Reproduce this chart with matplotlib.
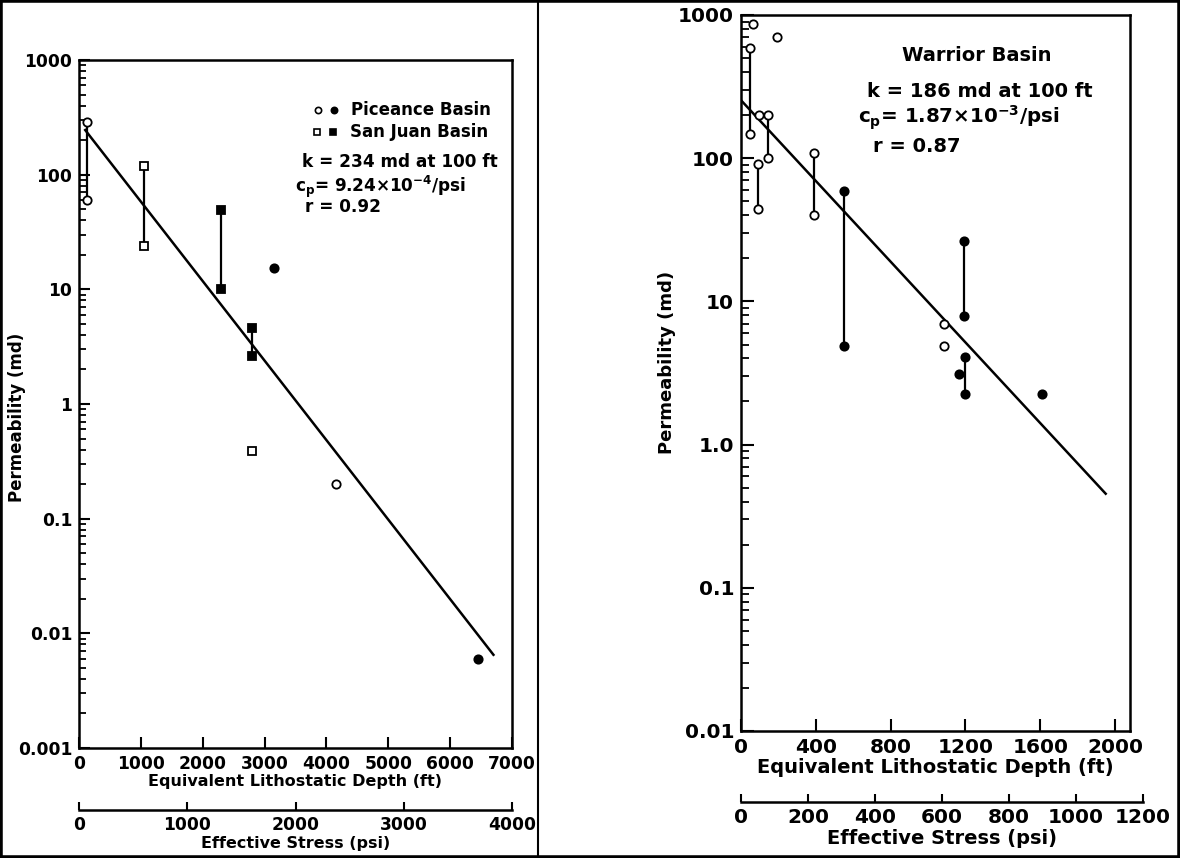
import matplotlib
matplotlib.use('Agg')
import matplotlib.pyplot as plt
from matplotlib.ticker import LogLocator, FixedLocator, NullFormatter
from matplotlib.patches import Rectangle
from matplotlib.lines import Line2D

plt.rcParams['font.family'] = ['DejaVu Sans']
plt.rcParams['font.weight'] = 'bold'

# ---------------- Left panel: Piceance / San Juan ----------------
left_bar_x = [130, 1050, 2300, 2800]
left_bar_lo = [60, 24, 10, 2.6]
left_bar_hi = [290, 118, 49, 4.6]

pic_open_x = [130, 130, 4150]
pic_open_y = [290, 60, 0.2]
pic_fill_x = [3150, 6450]
pic_fill_y = [15.5, 0.006]
sj_open_x = [1050, 1050, 2800]
sj_open_y = [118, 24, 0.39]
sj_fill_x = [2300, 2300, 2800, 2800]
sj_fill_y = [49, 10, 4.6, 2.6]

left_fit_x = [100, 6700]
left_fit_y = [245, 0.0065]

left_depth_ticks = [0, 1000, 2000, 3000, 4000, 5000, 6000, 7000]
left_stress_ticks = [0, 1000, 2000, 3000, 4000]
left_perm_ticks = [0.001, 0.01, 0.1, 1, 10, 100, 1000]
left_perm_labels = ['0.001', '0.01', '0.1', '1', '10', '100', '1000']

# ---------------- Right panel: Warrior Basin ----------------
right_bar_x = [48, 90, 143, 390, 550, 1190, 1200]
right_bar_lo = [148, 44, 100, 40, 4.9, 7.9, 2.25]
right_bar_hi = [590, 91, 200, 108, 59, 26.4, 4.1]

war_open_x = [66, 48, 48, 192, 95, 90, 90, 143, 143, 390, 390, 1085, 1085]
war_open_y = [870, 590, 148, 700, 200, 91, 44, 200, 100, 108, 40, 6.9, 4.9]
war_fill_x = [550, 550, 1190, 1190, 1200, 1200, 1167, 1610]
war_fill_y = [59, 4.9, 26.4, 7.9, 4.1, 2.25, 3.1, 2.25]

right_fit_x = [0, 1950]
right_fit_y = [254, 0.454]

right_depth_ticks = [0, 400, 800, 1200, 1600, 2000]
right_stress_ticks = [0, 200, 400, 600, 800, 1000, 1200]
right_perm_ticks = [0.01, 0.1, 1, 10, 100, 1000]
right_perm_labels = ['0.01', '0.1', '1.0', '10', '100', '1000']

W, H = 1180, 858
fig = plt.figure(figsize=(W / 100, H / 100), dpi=100)


def rect(x0, y0, x1, y1):
    return [x0 / W, 1 - y1 / H, (x1 - x0) / W, (y1 - y0) / H]


def style_log_axes(ax, fs, tick_len):
    ax.set_yscale('log')
    ax.yaxis.set_minor_locator(LogLocator(base=10, subs=range(2, 10), numticks=20))
    ax.yaxis.set_minor_formatter(NullFormatter())
    ax.tick_params(axis='both', which='major', direction='in', length=tick_len,
                   width=1.5, labelsize=fs, pad=5)
    ax.tick_params(axis='y', which='minor', direction='in', length=tick_len * 0.6, width=1.3)
    ax.tick_params(axis='x', which='minor', length=0)
    for s in ax.spines.values():
        s.set_linewidth(1.8)
    ax.set_facecolor('none')


def stress_axis(rect_, ticks, xmax, fs, label, lsize):
    a = fig.add_axes(rect_)
    a.set_xlim(0, xmax)
    a.set_ylim(0, 1)
    for k in ['top', 'left', 'right']:
        a.spines[k].set_visible(False)
    a.spines['bottom'].set_linewidth(1.8)
    a.set_yticks([])
    a.set_xticks(ticks)
    a.set_xticklabels([str(t) for t in ticks])
    a.tick_params(axis='x', direction='in', length=6, width=1.5, labelsize=fs, pad=4)
    a.set_xlabel(label, fontsize=lsize, fontweight='bold', labelpad=2)
    a.set_facecolor('none')
    return a


mk = dict(ms=6, mew=1.3, mec='black', ls='none')

# ---- Left
axL = fig.add_axes(rect(79, 60, 512, 748))
style_log_axes(axL, 12.3, 8)
axL.set_xlim(0, 7000)
axL.set_ylim(0.001, 1000)
axL.yaxis.set_major_locator(FixedLocator(left_perm_ticks))
axL.set_yticklabels(left_perm_labels)
axL.set_xticks(left_depth_ticks)
axL.set_xticklabels([str(t) for t in left_depth_ticks])
axL.vlines(left_bar_x, left_bar_lo, left_bar_hi, colors='black', lw=1.6)
axL.plot(left_fit_x, left_fit_y, color='black', lw=1.8)
axL.plot(pic_open_x, pic_open_y, marker='o', mfc='white', **mk)
axL.plot(pic_fill_x, pic_fill_y, marker='o', mfc='black', **mk)
axL.plot(sj_open_x, sj_open_y, marker='s', mfc='white', **mk)
axL.plot(sj_fill_x, sj_fill_y, marker='s', mfc='black', **mk)
axL.set_xlabel('Equivalent Lithostatic Depth (ft)', fontsize=11.5, fontweight='bold', labelpad=1)
axL.set_ylabel('Permeability (md)', fontsize=12, fontweight='bold', labelpad=2)
axL.yaxis.set_label_coords(-0.122, 0.48)

# legend-like annotation
tL = axL.transAxes
axL.add_line(Line2D([0.552], [0.928], transform=tL, marker='o', mfc='white', mec='black', ms=4.5, mew=1.2, ls='none'))
axL.add_line(Line2D([0.589], [0.928], transform=tL, marker='o', mfc='black', mec='black', ms=4.5, mew=1.2, ls='none'))
axL.add_line(Line2D([0.550], [0.895], transform=tL, marker='s', mfc='white', mec='black', ms=4.5, mew=1.2, ls='none'))
axL.add_line(Line2D([0.587], [0.895], transform=tL, marker='s', mfc='black', mec='black', ms=4.5, mew=1.2, ls='none'))
axL.text(0.628, 0.928, 'Piceance Basin', transform=tL, fontsize=12, fontweight='bold', va='center')
axL.text(0.625, 0.895, 'San Juan Basin', transform=tL, fontsize=12, fontweight='bold', va='center')
axL.text(0.515, 0.852, 'k = 234 md at 100 ft', transform=tL, fontsize=12.2, fontweight='bold', va='center')
axL.text(0.498, 0.815, r'c$_\mathbf{p}$= 9.24×10$^\mathbf{-4}$/psi', transform=tL, fontsize=12.2, fontweight='bold', va='center')
axL.text(0.522, 0.786, 'r = 0.92', transform=tL, fontsize=12.2, fontweight='bold', va='center')

stress_axis(rect(79, 809, 512, 810), left_stress_ticks, 4000, 12.3, 'Effective Stress (psi)', 11.5)

# ---- Right
axR = fig.add_axes(rect(741, 15, 1130, 731))
style_log_axes(axR, 14.5, 9)
axR.set_xlim(0, 2080)
axR.set_ylim(0.01, 1000)
axR.yaxis.set_major_locator(FixedLocator(right_perm_ticks))
axR.set_yticklabels(right_perm_labels)
axR.set_xticks(right_depth_ticks)
axR.set_xticklabels([str(t) for t in right_depth_ticks])
axR.vlines(right_bar_x, right_bar_lo, right_bar_hi, colors='black', lw=1.6)
axR.plot(right_fit_x, right_fit_y, color='black', lw=1.8)
axR.plot(war_open_x, war_open_y, marker='o', mfc='white', **mk)
axR.plot(war_fill_x, war_fill_y, marker='o', mfc='black', **mk)
axR.set_xlabel('Equivalent Lithostatic Depth (ft)', fontsize=14, fontweight='bold', labelpad=1)
axR.set_ylabel('Permeability (md)', fontsize=13, fontweight='bold', labelpad=4)
axR.yaxis.set_label_coords(-0.167, 0.515)
tR = axR.transAxes
axR.text(0.607, 0.944, 'Warrior Basin', transform=tR, fontsize=14, fontweight='bold', va='center', ha='center')
axR.text(0.325, 0.893, 'k = 186 md at 100 ft', transform=tR, fontsize=14, fontweight='bold', va='center')
axR.text(0.30, 0.856, r'c$_\mathbf{p}$= 1.87×10$^\mathbf{-3}$/psi', transform=tR, fontsize=14.3, fontweight='bold', va='center')
axR.text(0.34, 0.816, 'r = 0.87', transform=tR, fontsize=14, fontweight='bold', va='center')

stress_axis(rect(741, 801, 1143, 802), right_stress_ticks, 1200, 14.5, 'Effective Stress (psi)', 14)

# frame and divider
fig.add_artist(Rectangle((0, 0), 1, 1, transform=fig.transFigure, fill=False, lw=4, ec='black'))
fig.add_artist(Line2D([538 / W, 538 / W], [0, 1], transform=fig.transFigure, color='black', lw=1.5))

fig.savefig('out.png', dpi=100)
